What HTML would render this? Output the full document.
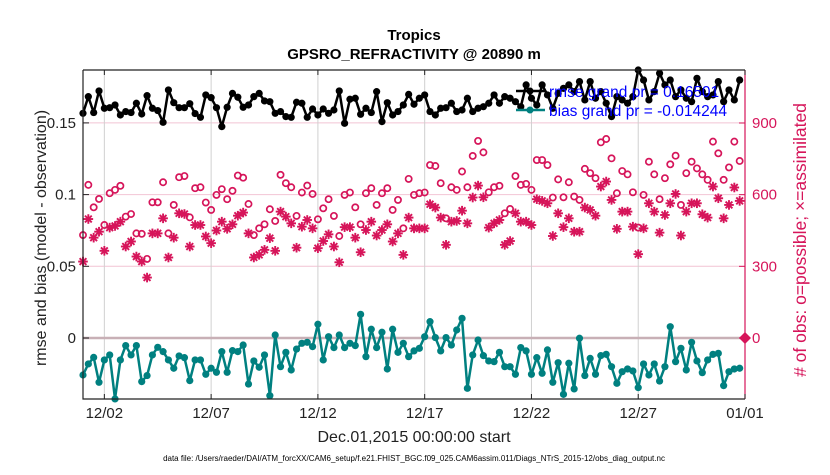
<!DOCTYPE html>
<html><head><meta charset="utf-8"><style>
body{margin:0;background:#fff;}
svg text{font-family:"Liberation Sans",sans-serif;}
</style></head><body>
<svg id="chart" width="830" height="470" xmlns="http://www.w3.org/2000/svg">
<rect x="0" y="0" width="830" height="470" fill="#fff"/>
<g id="grid"></g>
<g id="marks"></g>
<g id="axes"></g>
<text x="414" y="40" text-anchor="middle" font-size="15" font-weight="bold" fill="#000">Tropics</text>
<text x="414" y="59" text-anchor="middle" font-size="15" font-weight="bold" fill="#000">GPSRO_REFRACTIVITY @ 20890 m</text>
<text x="414" y="442" text-anchor="middle" font-size="16" fill="#222">Dec.01,2015 00:00:00 start</text>
<text transform="translate(46,238) rotate(-90)" text-anchor="middle" font-size="16" fill="#222">rmse and bias (model - observation)</text>
<text transform="translate(806,240) rotate(-90)" text-anchor="middle" font-size="17.5" fill="#d6155a"># of obs: o=possible; ×=assimilated</text>
<text x="414" y="461" text-anchor="middle" font-size="8" fill="#000">data file: /Users/raeder/DAI/ATM_forcXX/CAM6_setup/f.e21.FHIST_BGC.f09_025.CAM6assim.011/Diags_NTrS_2015-12/obs_diag_output.nc</text>
<g>
<line x1="516" y1="91" x2="545" y2="91" stroke="#000" stroke-width="2.5"/>
<circle cx="530" cy="91" r="3.5" fill="#000"/>
<text x="549" y="97" font-size="15.5" fill="#0000ff">rmse grand pr = 0.16501</text>
<line x1="516" y1="110" x2="545" y2="110" stroke="#008080" stroke-width="2.5"/>
<circle cx="530" cy="110" r="3.5" fill="#008080"/>
<text x="549" y="116" font-size="15.5" fill="#0000ff">bias grand pr = -0.014244</text>
</g>
</svg>
<script>
const rmse=[0.1567,0.1683,0.1572,0.1723,0.1602,0.1606,0.1625,0.1555,0.1579,0.1572,0.1637,0.1562,0.1690,0.1602,0.1586,0.1504,0.1730,0.1641,0.1606,0.1606,0.1634,0.1565,0.1539,0.1695,0.1676,0.1606,0.1474,0.1609,0.1706,0.1679,0.1609,0.1625,
0.1683,0.1706,0.1653,0.1648,0.1567,0.1579,0.1544,0.1539,0.1644,0.1637,0.1539,0.1597,0.1555,0.1597,0.1567,0.1590,0.1723,0.1497,0.1665,0.1672,0.1560,0.1602,0.1572,0.1718,0.1509,0.1641,0.1555,0.1579,0.1625,0.1699,0.1630,
0.1672,0.1695,0.1579,0.1555,0.1602,0.1606,0.1637,0.1579,0.1590,0.1672,0.1579,0.1602,0.1613,0.1637,0.1695,0.1637,0.1683,0.1672,0.1648,0.1613,0.1765,0.1672,0.1625,0.1765,0.1695,0.1602,0.1706,0.1741,0.1765,0.1718,
0.1788,0.1660,0.1788,0.1672,0.1718,0.1637,0.1544,0.1683,0.1660,0.1637,0.1683,0.1869,0.1799,0.1660,0.1718,0.1846,0.1765,0.1799,0.1683,0.1730,0.1672,0.1648,0.1811,0.1718,0.1683,0.1695,0.1788,0.1648,0.1730,0.1660,0.1799];
const bias=[-0.0258,-0.0181,-0.0135,-0.0309,-0.0153,-0.0118,-0.0425,-0.0153,-0.0053,-0.0118,-0.0053,-0.0304,-0.0262,-0.0118,-0.0065,-0.0095,-0.0153,-0.0211,-0.0125,-0.0137,-0.0297,-0.0153,-0.0153,-0.0253,-0.0211,-0.0239,-0.0095,-0.0239,-0.0088,-0.0095,-0.0049,-0.0321,
-0.0160,-0.0204,-0.0118,-0.0402,0.0021,-0.0200,-0.0100,-0.0223,-0.0077,-0.0037,-0.0030,-0.0060,0.0096,-0.0153,0.0009,-0.0067,0.0021,-0.0067,-0.0037,-0.0053,0.0165,-0.0130,0.0061,-0.0067,0.0040,-0.0216,0.0061,-0.0100,-0.0037,-0.0130,-0.0090,
-0.0072,0.0009,0.0114,0.0003,-0.0090,0.0003,-0.0049,0.0056,0.0137,-0.0351,-0.0118,-0.0014,-0.0123,-0.0160,-0.0165,-0.0100,-0.0200,-0.0200,-0.0253,-0.0067,-0.0090,-0.0253,-0.0137,-0.0246,-0.0083,-0.0309,-0.0172,-0.0393,-0.0176,-0.0355,
-0.0002,-0.0262,-0.0142,-0.0253,-0.0123,-0.0114,-0.0200,-0.0316,-0.0235,-0.0216,-0.0230,-0.0346,-0.0181,-0.0258,-0.0181,-0.0300,-0.0200,0.0079,-0.0165,-0.0072,-0.0223,-0.0030,-0.0160,-0.0242,-0.0153,-0.0114,-0.0107,-0.0332,-0.0235,-0.0216,-0.0211];
const possible=[431,641,547,582,473,606,620,637,508,519,438,436,331,568,568,652,438,557,673,678,505,627,631,567,536,599,623,581,616,680,671,561,
431,459,476,539,490,683,648,631,511,609,638,603,497,543,581,511,427,599,609,547,476,606,627,557,606,627,536,578,459,666,599,
606,609,724,720,648,501,631,620,697,631,762,825,777,610,631,637,522,540,678,641,645,620,745,745,724,588,664,589,652,592,
578,708,690,669,819,833,752,606,699,685,610,462,599,738,685,581,669,727,763,557,690,738,710,685,662,822,773,662,714,822,741];
const assimilated=[320,498,420,445,365,462,469,487,383,404,341,320,253,438,438,501,337,420,522,519,383,473,473,425,397,450,487,457,476,512,525,438,
337,348,369,418,365,529,508,480,378,466,494,459,376,406,434,383,317,464,464,420,359,452,487,429,452,476,404,438,348,504,459,
459,459,560,546,504,390,487,490,533,480,588,638,589,462,480,494,390,406,522,487,487,473,581,574,564,427,522,464,501,445,
445,546,536,512,634,655,578,457,529,529,466,351,459,564,529,441,515,564,603,429,529,564,564,518,504,634,585,501,557,630,574];
const xTickDays=[1,6,11,16,21,26,31];
const xTickLabels=["12/02","12/07","12/12","12/17","12/22","12/27","01/01"];
const yTicks=[0,0.05,0.1,0.15];
const yTickLabels=["0","0.05","0.1","0.15"];
const y2Ticks=[0,300,600,900];
const stepDays=0.25;

const L=83,R=745,T=70,B=399;
const X=d=>L+(d/31)*(R-L);
const Y=v=>338-v*1434;
const Y2=c=>338-c*0.23889;
const NS="http://www.w3.org/2000/svg";
function mk(tag,attrs,parent){const e=document.createElementNS(NS,tag);for(const k in attrs)e.setAttribute(k,attrs[k]);parent.appendChild(e);return e;}
const grid=document.getElementById('grid'),marks=document.getElementById('marks'),axes=document.getElementById('axes');

yTicks.forEach((v,i)=>{if(v===0)return;const l=mk('line',{x1:L,x2:R,y1:Y(v),y2:Y(v),stroke:'#f2c4d4','stroke-width':1},grid);

});
xTickDays.forEach(d=>{const l=mk('line',{x1:X(d),x2:X(d),y1:T,y2:B,stroke:'#d0d0d0','stroke-width':1},grid);

});
const z=mk('line',{x1:L,x2:R,y1:Y(0),y2:Y(0),stroke:'#c8b0b6','stroke-width':2.5},grid);



possible.forEach((c,i)=>{const e=mk('circle',{cx:X(i*stepDays),cy:Y2(c),r:3.1,fill:'none',stroke:'#d6155a','stroke-width':1.7},marks);

});
assimilated.forEach((c,i)=>{const x=X(i*stepDays),y=Y2(c);const g=mk('g',{stroke:'#d6155a','stroke-width':1.9},marks);


for(let a=0;a<4;a++){const t=a*Math.PI/4,dx=4.8*Math.cos(t),dy=4.8*Math.sin(t);mk('line',{x1:x-dx,y1:y-dy,x2:x+dx,y2:y+dy},g);}});

function series(vals,color,name){
const pts=vals.map((v,i)=>X(i*stepDays).toFixed(1)+','+Y(v).toFixed(1)).join(' ');
const pl=mk('polyline',{points:pts,fill:'none',stroke:color,'stroke-width':2.5,'stroke-linejoin':'round'},marks);


vals.forEach((v,i)=>{const c=mk('circle',{cx:X(i*stepDays),cy:Y(v),r:3.6,fill:color},marks);

});}
series(bias,'#008080','bias');
series(rmse,'#000000','rmse');

const dm=mk('path',{d:`M${R-6},${Y2(0)} L${R},${Y2(0)-6} L${R+6},${Y2(0)} L${R},${Y2(0)+6}Z`,fill:'#d6155a'},marks);



const fr=mk('path',{d:`M${L},${T} L${R},${T} M${L},${T} L${L},${B} L${R},${B}`,stroke:'#222',fill:'none','stroke-width':1.2},axes);


const ra=mk('line',{x1:R,x2:R,y1:T,y2:B,stroke:'#d6155a','stroke-width':1.2},axes);


xTickDays.forEach((d,i)=>{mk('line',{x1:X(d),x2:X(d),y1:B,y2:B-5,stroke:'#222'},axes);mk('line',{x1:X(d),x2:X(d),y1:T,y2:T+5,stroke:'#222'},axes);
const t=mk('text',{x:X(d),y:B+19,'text-anchor':'middle','font-size':15,fill:'#222'},axes);t.textContent=xTickLabels[i];

});
yTicks.forEach((v,i)=>{mk('line',{x1:L,x2:L+6,y1:Y(v),y2:Y(v),stroke:'#222'},axes);
const t=mk('text',{x:L-7,y:Y(v)+5,'text-anchor':'end','font-size':15,fill:'#222'},axes);t.textContent=yTickLabels[i];

});
y2Ticks.forEach(c=>{mk('line',{x1:R-6,x2:R,y1:Y2(c),y2:Y2(c),stroke:'#d6155a'},axes);
const t=mk('text',{x:R+7,y:Y2(c)+5,'font-size':15,fill:'#d6155a'},axes);t.textContent=String(c);

});
</script>
</body></html>
